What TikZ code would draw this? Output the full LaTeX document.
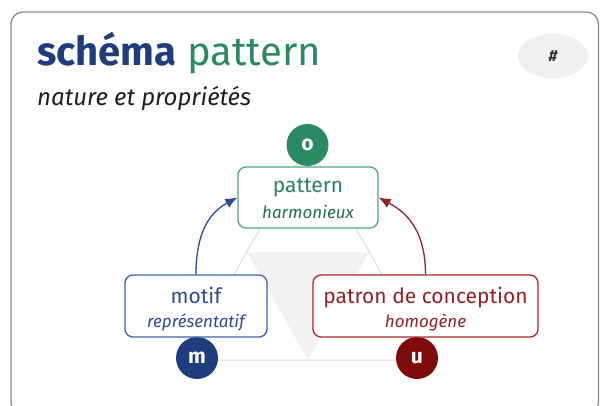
\documentclass[tikz,border=0pt]{standalone}
\usepackage{fontspec}
\setmainfont{Fira Sans}
\usetikzlibrary{arrows.meta,shapes.geometric}
\definecolor{cblue}{HTML}{1F3D7C}
\definecolor{cgreen}{HTML}{2A8A62}
\definecolor{cred}{HTML}{7E0A0A}
\definecolor{bblue}{HTML}{3D62A8}
\definecolor{bgreen}{HTML}{4FA582}
\definecolor{bred}{HTML}{A52A2A}
\definecolor{tblue}{HTML}{2B4C8C}
\definecolor{tgreen}{HTML}{2A8062}
\definecolor{tred}{HTML}{8E2224}
\tikzset{
  card/.style={draw=black!45, line width=1.3pt, rounded corners=12pt},
  boxnode/.style={draw, line width=1.3pt, rounded corners=8pt, fill=white, minimum height=62pt, inner sep=0pt},
  badge/.style={circle, minimum size=42pt, inner sep=0pt, text=white, font=\fontsize{21}{21}\selectfont\bfseries},
  maintxt/.style={anchor=base, inner sep=0pt, font=\fontsize{21}{24}\selectfont},
  subtxt/.style={anchor=base, inner sep=0pt, font=\fontsize{17}{20}\selectfont\itshape},
  tri/.style={draw=black!13, line width=1pt},
  link/.style={line width=1.3pt, -{Latex[length=12pt,width=10pt]}},
}
\begin{document}
\begin{tikzpicture}[x=1pt,y=-1pt]
\useasboundingbox (0,0) rectangle (600,406);
\draw[card] (11,12) rectangle (598.5,414);
% title
\node[anchor=base west, inner sep=0pt, font=\fontsize{40}{48}\selectfont] (title) at (37,66)
  {\textcolor{cblue}{\bfseries schéma} \textcolor{cgreen}{pattern}};
\node[anchor=base west, inner sep=0pt, font=\fontsize{24}{28}\selectfont\itshape, text=black!88] (subtitle) at (37,106) {nature et propriétés};
% hash badge
\node[ellipse, fill=black!6, minimum width=70pt, minimum height=44pt, inner sep=0pt, font=\fontsize{16}{16}\selectfont\bfseries\itshape, text=black!80] (hash) at (553,56) {\#};
% triangle background
\fill[black!5] (247,252.5) -- (369,252.5) -- (308,360) -- cycle;
\coordinate (ta) at (308,145);
\coordinate (tl) at (185,360);
\coordinate (tr) at (431,360);
\draw[tri] (ta) -- (tl) -- (tr) -- cycle;
% badges
\node[badge, fill=cgreen] (o) at (307.5,145) {o};
\node[badge, fill=cblue] (m) at (197,358) {m};
\node[badge, fill=cred] (u) at (417,358) {u};
% boxes
\node[boxnode, draw=bgreen, minimum width=140pt, minimum height=61pt] (pattern) at (308,197.5) {};
\node[boxnode, draw=bblue, minimum width=142pt] (motif) at (196,306) {};
\node[boxnode, draw=bred, minimum width=225pt] (patron) at (425.5,306) {};
% box texts
\node[maintxt, text=tgreen] (patternT) at (308,193) {pattern};
\node[subtxt, text=tgreen!85!black] (patternS) at (308,219) {harmonieux};
\node[maintxt, text=tblue] (motifT) at (196,303) {motif};
\node[subtxt, text=tblue] (motifS) at (196,327) {représentatif};
\node[maintxt, text=tred] (patronT) at (425.5,303) {patron de conception};
\node[subtxt, text=tred] (patronS) at (425.5,327) {homogène};
% arrows
\draw[link, draw=tblue] (motif.north) .. controls +(0,-50) and +(-22,12) .. (pattern.west);
\draw[link, draw=tred] (patron.north) .. controls +(0,-50) and +(22,12) .. (pattern.east);
\end{tikzpicture}
\end{document}
